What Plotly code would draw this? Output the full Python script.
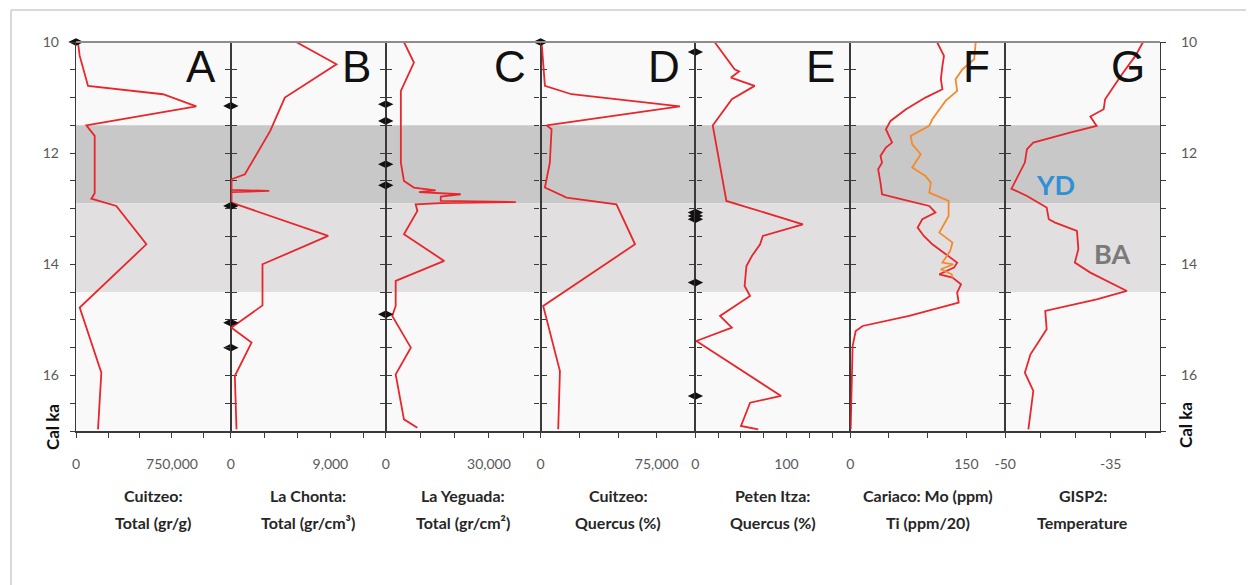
import plotly.graph_objects as go

# ---------------- data ----------------
age_ticks = [10 + 0.5 * i for i in range(15)]
age_labels = ["10", "", "", "", "12", "", "", "", "14", "", "", "", "16", "", ""]

A_age = [10.0, 10.25, 10.79, 10.94, 11.16, 11.50, 11.69, 12.72, 12.82, 12.95, 13.64, 14.78, 15.95, 16.97]
A_val = [15000, 29000, 94000, 680000, 940000, 81000, 146000, 146000, 120000, 315000, 550000, 29000, 198000, 172000]

B_age = [10.0, 10.4, 11.0, 11.6, 12.38, 12.47, 12.66, 12.68, 12.70, 12.89, 13.49, 14.0, 14.74, 15.14, 15.41, 16.01, 16.97]
B_val = [5900, 9550, 4880, 3560, 1270, 60, 60, 3470, 60, 60, 8800, 2860, 2860, 60, 1870, 360, 510]

C_age = [10.0, 10.37, 10.88, 12.17, 12.5, 12.62, 12.67, 12.70, 12.74, 12.78, 12.86, 12.88, 12.90, 12.92,
         13.04, 13.46, 13.94, 14.30, 14.75, 14.93, 15.50, 15.98, 16.79, 16.94]
C_val = [5300, 8200, 4400, 4400, 5300, 8200, 14500, 9700, 21800, 16000, 16000, 37800, 16000, 8700,
         9200, 5300, 17000, 2900, 2900, 1900, 7300, 2900, 5300, 9200]

D_age = [10.0, 10.79, 10.94, 11.16, 11.50, 11.57, 12.17, 12.62, 12.80, 12.92, 13.64, 14.75, 15.92, 16.97]
D_val = [650, 2800, 20000, 90000, 3900, 7100, 6000, 2800, 16800, 49000, 61000, 1700, 12500, 11400]

E_age = [10.0, 10.49, 10.53, 10.64, 10.79, 11.03, 11.50, 12.86, 13.28, 13.49, 13.64, 13.85, 14.03, 14.39,
         14.57, 14.93, 15.14, 15.38, 16.37, 16.49, 16.91, 16.97]
E_val = [21, 43, 48, 39, 65, 40, 19, 34, 118, 74, 71, 62, 56, 54, 60, 27, 40, 1, 94, 60, 50, 69]

F_mo_age = [10.0, 10.25, 10.43, 10.67, 10.85, 11.0, 11.21, 11.42, 11.57, 11.81, 11.90, 12.05, 12.17, 12.29,
            12.53, 12.74, 12.83, 12.95, 13.07, 13.19, 13.34, 13.49, 13.64, 13.85, 13.97, 14.06, 14.18,
            14.24, 14.36, 14.51, 14.69, 14.93, 15.11, 15.20, 15.47, 16.97]
F_mo_val = [112, 121, 119, 117, 119, 97, 72, 52, 46, 54, 46, 39, 41, 36, 39, 41, 67, 102, 110, 93, 87, 95,
            106, 127, 138, 134, 115, 132, 143, 138, 140, 76, 16, 7, 3, 0.5]

F_ti_age = [10.0, 10.31, 10.49, 10.67, 10.88, 11.06, 11.39, 11.51, 11.69, 11.84, 12.02, 12.26, 12.41, 12.53,
            12.71, 12.86, 13.13, 13.43, 13.61, 13.76, 13.97, 14.00, 14.09, 14.18, 14.24]
F_ti_val = [162, 160, 145, 136, 138, 123, 106, 102, 78, 80, 91, 80, 97, 104, 102, 127, 127, 115, 132, 129,
            119, 133, 117, 131, 132]

G_age = [10.0, 10.25, 10.58, 10.85, 11.03, 11.21, 11.34, 11.51, 11.63, 11.81, 11.93, 12.17, 12.35, 12.64,
         12.77, 12.98, 13.19, 13.25, 13.40, 13.73, 13.97, 14.15, 14.48, 14.63, 14.84, 15.17, 15.62, 15.95,
         16.28, 16.97]
G_val = [-30.4, -31.5, -33.4, -34.8, -35.8, -36.0, -37.9, -37.0, -40.8, -46.0, -46.9, -47.2, -47.9, -49.1,
         -46.9, -44.1, -43.8, -42.9, -39.8, -39.6, -40.1, -37.9, -32.7, -37.0, -44.3, -44.1, -46.4, -47.2,
         -46.0, -46.7]

# radiocarbon date markers on panel left axes
A_dates = [10.0]
B_dates = [11.15, 12.95, 15.05, 15.5]
C_dates = [11.12, 11.42, 12.2, 12.58, 14.9]
D_dates = [10.0]
E_dates = [10.18, 13.07, 13.13, 13.19, 14.33, 16.37]

panel_letters = ["A", "B", "C", "D", "E", "F", "G"]
x_ranges = [[0, 1210000], [0, 14000], [0, 45000], [0, 100000], [0, 170], [0, 200], [-50, -28]]
x_tickvals = [[0, 250000, 500000, 750000, 1000000],
              [0, 3000, 6000, 9000, 12000],
              [0, 10000, 20000, 30000, 40000],
              [0, 25000, 50000, 75000],
              [0, 25, 50, 75, 100, 125, 150],
              [0, 50, 100, 150],
              [-50, -45, -40, -35, -30]]
x_ticktext = [["0", "", "", "750,000", ""],
              ["0", "", "", "9,000", ""],
              ["0", "", "", "30,000", ""],
              ["0", "", "", "75,000"],
              ["0", "", "", "", "100", "", ""],
              ["0", "", "", "150"],
              ["-50", "", "", "-35", ""]]
titles_line1 = ["Cuitzeo:", "La Chonta:", "La Yeguada:", "Cuitzeo:", "Peten Itza:", "Cariaco: Mo (ppm)", "GISP2:"]
titles_line2 = ["Total (gr/g)", "Total (gr/cm³)", "Total (gr/cm²)", "Quercus (%)", "Quercus (%)", "Ti (ppm/20)", "Temperature"]

YD = (11.5, 12.9)
BA = (12.9, 14.5)

# ---------------- figure ----------------
RED = "#e8262b"
ORANGE = "#f58a2c"
AX = "#3a3a3a"
FONT = "Lato"
OFF = 8                      # browser body margin
W, H = 1254 - OFF, 585 - OFF
ML, MR, MT, MB = 76 - OFF, 94, 42 - OFF, 154
n = 7
pw = W - ML - MR
ph = H - MT - MB


def px_x(X):  # page pixel -> paper
    return (X - OFF - ML) / pw


def px_y(Y):
    return (H - MB - (Y - OFF)) / ph


fig = go.Figure()

series = [(A_age, A_val), (B_age, B_val), (C_age, C_val), (D_age, D_val), (E_age, E_val),
          (F_mo_age, F_mo_val), (G_age, G_val)]
for k, (ag, vv) in enumerate(series):
    sfx = "" if k == 0 else str(k + 1)
    fig.add_trace(go.Scatter(x=vv, y=ag, mode="lines", line=dict(color=RED, width=1.8),
                             xaxis="x" + sfx, yaxis="y" + sfx, showlegend=False))
fig.add_trace(go.Scatter(x=F_ti_val, y=F_ti_age, mode="lines", line=dict(color=ORANGE, width=1.8),
                         xaxis="x6", yaxis="y6", showlegend=False))

date_sets = [(0, A_dates), (1, B_dates), (2, C_dates), (3, D_dates), (4, E_dates)]
for k, d in date_sets:
    sfx = "" if k == 0 else str(k + 1)
    fig.add_trace(go.Scatter(x=[x_ranges[k][0]] * len(d), y=d, mode="markers",
                             marker=dict(symbol="diamond-wide", size=11, color="#111111"),
                             xaxis="x" + sfx, yaxis="y" + sfx, showlegend=False, cliponaxis=False))

layout = dict(width=W, height=H, margin=dict(l=ML, r=MR, t=MT, b=MB, pad=0),
              paper_bgcolor="white", plot_bgcolor="#faf9f9", showlegend=False,
              font=dict(family=FONT, color="#595959", size=13))

for k in range(n):
    sfx = "" if k == 0 else str(k + 1)
    layout["xaxis" + sfx] = dict(domain=[k / n, (k + 1) / n], anchor="y" + sfx, range=x_ranges[k],
                                 tickvals=x_tickvals[k], ticktext=x_ticktext[k], ticks="outside",
                                 ticklen=5, tickwidth=1.2, tickcolor=AX, showline=True, linecolor=AX,
                                 linewidth=2, showgrid=False, zeroline=False, ticklabelstandoff=14,
                                 tickfont=dict(size=14, color="#595959", family=FONT), fixedrange=True)
    ya = dict(anchor="x" + sfx, range=[17, 10], tickvals=age_ticks, ticktext=age_labels,
              ticks="outside", ticklen=5, tickwidth=1.2, tickcolor=AX, showline=True, linecolor=AX,
              linewidth=1.4, mirror="ticks", showgrid=False, zeroline=False, showticklabels=False,
              tickfont=dict(size=14, color="#595959", family=FONT), fixedrange=True)
    if k == 0:
        ya["showticklabels"] = True
        ya["ticklabelstandoff"] = 8
    if k == n - 1:
        ya["showticklabels"] = True
        ya["side"] = "right"
        ya["ticklabelstandoff"] = 12
    layout["yaxis" + sfx] = ya

shapes = []
for (y0, y1), col in [(YD, "#c8c8c8"), (BA, "#e1dfe0")]:
    shapes.append(dict(type="rect", xref="paper", yref="y", x0=0, x1=1, y0=y0, y1=y1,
                       fillcolor=col, line=dict(width=0), layer="below"))
shapes.append(dict(type="line", xref="paper", yref="paper", x0=0, x1=1, y0=1, y1=1,
                   line=dict(color="#8c8c8c", width=2)))
# outer light frame
fx0 = px_x(11)
fy0 = px_y(10)
shapes.append(dict(type="line", xref="paper", yref="paper", x0=fx0, x1=px_x(1254), y0=fy0, y1=fy0,
                   line=dict(color="#cccccc", width=1.5)))
shapes.append(dict(type="line", xref="paper", yref="paper", x0=fx0, x1=fx0, y0=fy0, y1=px_y(585),
                   line=dict(color="#cccccc", width=1.5)))
layout["shapes"] = shapes

ann = []
for k in range(n):
    xr = (k + 1) / n - 13 / pw
    ann.append(dict(text=panel_letters[k], xref="paper", yref="paper", x=xr, y=px_y(67),
                    xanchor="right", yanchor="middle", showarrow=False,
                    font=dict(family="Liberation Sans", size=44, color="#111111")))
    xc = (k + 0.5) / n
    ann.append(dict(text="<b>" + titles_line1[k] + "</b>", xref="paper", yref="paper", x=xc,
                    y=px_y(495), xanchor="center", yanchor="middle", showarrow=False,
                    font=dict(family=FONT, size=16, color="#262626")))
    ann.append(dict(text="<b>" + titles_line2[k] + "</b>", xref="paper", yref="paper", x=xc,
                    y=px_y(522), xanchor="center", yanchor="middle", showarrow=False,
                    font=dict(family=FONT, size=16, color="#262626")))
ann.append(dict(text="<b>YD</b>", xref="x7", yref="y7", x=-42.9, y=12.56, showarrow=False,
                xanchor="center", yanchor="middle", font=dict(family=FONT, size=27, color="#2e91d6")))
ann.append(dict(text="<b>BA</b>", xref="x7", yref="y7", x=-34.8, y=13.8, showarrow=False,
                xanchor="center", yanchor="middle", font=dict(family=FONT, size=27, color="#7a7a7a")))
ann.append(dict(text="<b>Cal ka</b>", xref="paper", yref="paper", x=px_x(52), y=px_y(427),
                textangle=-90, showarrow=False, xanchor="center", yanchor="middle",
                font=dict(family=FONT, size=17, color="#111111")))
ann.append(dict(text="<b>Cal ka</b>", xref="paper", yref="paper", x=px_x(1185), y=px_y(425),
                textangle=-90, showarrow=False, xanchor="center", yanchor="middle",
                font=dict(family=FONT, size=17, color="#111111")))
layout["annotations"] = ann

fig.update_layout(**layout)
fig.write_html("out.html")
